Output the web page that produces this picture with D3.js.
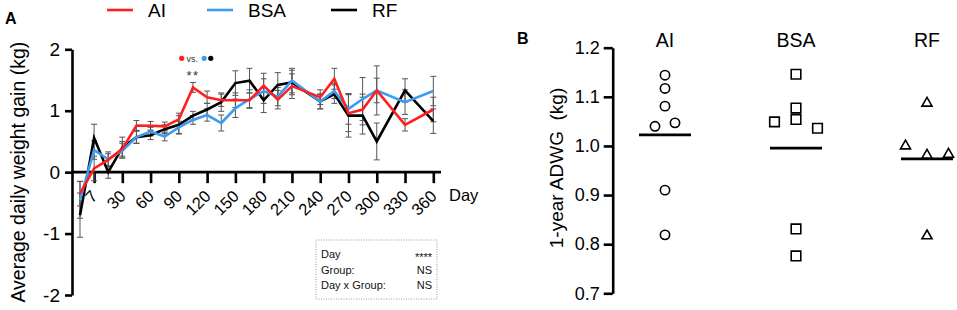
<!DOCTYPE html>
<html>
<head>
<meta charset="utf-8">
<script src="https://cdn.jsdelivr.net/npm/d3@7"></script>
<style>
  html, body { margin: 0; padding: 0; background: #fff; }
  svg { display: block; font-family: "Liberation Sans", Arial, sans-serif; }
</style>
</head>
<body>
<svg id="chart" width="957" height="310"></svg>
<script>
// ---------------- DATA ----------------
const days = [0, 7, 14, 30, 45, 60, 75, 90, 105, 120, 135, 150, 165, 180, 195, 210, 240, 255, 270, 285, 300, 330, 360];
const dayTicks = [7, 30, 60, 90, 120, 150, 180, 210, 240, 270, 300, 330, 360];
const yTicksA = [-2, -1, 0, 1, 2];

const aiMean  = [-0.35, 0.06, 0.20, 0.38, 0.76, 0.755, 0.745, 0.86, 1.38, 1.22, 1.17, 1.17, 1.17, 1.41, 1.18, 1.40, 1.22, 1.52, 0.96, 1.02, 1.33, 0.77, 1.02];
const bsaMean = [-0.45, 0.36, 0.21, 0.35, 0.57, 0.66, 0.58, 0.73, 0.85, 0.93, 0.80, 1.04, 1.19, 1.32, 1.23, 1.49, 1.15, 1.32, 1.03, 1.19, 1.33, 1.14, 1.32];
const rfMean  = [-0.70, 0.56, 0.00, 0.40, 0.57, 0.60, 0.70, 0.77, 0.92, 1.02, 1.14, 1.45, 1.49, 1.17, 1.42, 1.46, 1.15, 1.27, 0.92, 0.92, 0.50, 1.33, 0.83];

const aiSem  = [0.20, 0.20, 0.10, 0.12, 0.08, 0.07, 0.07, 0.10, 0.08, 0.10, 0.10, 0.12, 0.12, 0.20, 0.15, 0.20, 0.12, 0.17, 0.30, 0.25, 0.40, 0.10, 0.20];
const bsaSem = [0.30, 0.15, 0.12, 0.12, 0.10, 0.07, 0.07, 0.10, 0.07, 0.10, 0.13, 0.15, 0.15, 0.20, 0.15, 0.20, 0.12, 0.12, 0.25, 0.35, 0.20, 0.20, 0.24];
const rfSem  = [0.36, 0.22, 0.10, 0.17, 0.10, 0.07, 0.07, 0.15, 0.07, 0.10, 0.15, 0.20, 0.20, 0.20, 0.20, 0.20, 0.12, 0.15, 0.35, 0.30, 0.30, 0.19, 0.20];

const groups = ["AI", "BSA", "RF"];
const aiADWG  = [1.144, 1.117, 1.081, 1.040, 1.047, 0.910, 0.819];
const bsaADWG = [1.146, 1.077, 1.054, 1.049, 1.036, 0.831, 0.776];
const rfADWG  = [1.087, 0.981, 1.000, 0.983, 0.817];
const yTicksB = [0.7, 0.8, 0.9, 1.0, 1.1, 1.2];

const statsRows = [["Day", "****"], ["Group:", "NS"], ["Day x Group:", "NS"]];

// ---------------- STYLE ----------------
const colors = { AI: "#ff1f1f", BSA: "#3d9cf2", RF: "#000000" };
const FONT = "Liberation Sans, Arial, sans-serif";
const svg = d3.select("#chart");

// ================= PANEL A =================
const A = { left: 72, right: 441, top: 49.3, bottom: 295 };
const xA = d3.scaleLinear()
  .domain([0, 7, 14, 30, 360])
  .range([80, 94.1, 108.2, 122.3, 433.3]);
const yA = d3.scaleLinear().domain([-2, 2]).range([A.bottom, A.top]);

const gA = svg.append("g");

// panel letter
svg.append("text").attr("x", 5).attr("y", 24).attr("font-size", 16).attr("font-weight", "bold").text("A");

// legend
const legendItems = [
  { name: "AI", x: 107 },
  { name: "BSA", x: 207 },
  { name: "RF", x: 331 }
];
legendItems.forEach(d => {
  svg.append("line").attr("x1", d.x).attr("x2", d.x + 26).attr("y1", 10).attr("y2", 10)
    .attr("stroke", colors[d.name]).attr("stroke-width", 2.6);
  svg.append("text").attr("x", d.x + 41).attr("y", 17).attr("font-size", 19).text(d.name);
});

// y axis
const hyphenInt = d => (d < 0 ? "-" : "") + Math.abs(d);
const yAxisA = d3.axisLeft(yA).tickValues(yTicksA).tickSize(7).tickPadding(5).tickSizeOuter(0).tickFormat(hyphenInt);
const gyA = gA.append("g").attr("transform", `translate(${A.left},0)`).call(yAxisA);
gyA.select(".domain").attr("stroke-width", 2.6);
gyA.selectAll(".tick line").attr("stroke-width", 2.6);
gyA.selectAll(".tick text").attr("font-size", 19).attr("font-family", FONT).attr("fill", "#000");

// x axis
gA.append("line").attr("x1", A.left).attr("x2", A.right).attr("y1", yA(0)).attr("y2", yA(0))
  .attr("stroke", "#000").attr("stroke-width", 2.6);
const xAxisA = d3.axisBottom(xA).tickValues(dayTicks).tickSize(11).tickSizeOuter(0).tickFormat(d3.format("d"));
const gxA = gA.append("g").attr("transform", `translate(0,${yA(0)})`).call(xAxisA);
gxA.select(".domain").remove();
gxA.selectAll(".tick line").attr("stroke-width", 2.6);
gxA.selectAll(".tick text")
  .attr("font-size", 16.5).attr("font-family", FONT).attr("fill", "#000")
  .attr("text-anchor", "end")
  .attr("transform", "translate(4,25) rotate(-45)")
  .attr("y", 0).attr("dy", "0");

gA.append("text").attr("x", 449).attr("y", 201).attr("font-size", 16.5).text("Day");

// y label
gA.append("text")
  .attr("transform", `translate(25,${(A.top + A.bottom) / 2}) rotate(-90)`)
  .attr("text-anchor", "middle").attr("font-size", 19.5)
  .text("Average daily weight gain (kg)");

// series
const series = [
  { name: "AI", mean: aiMean, sem: aiSem },
  { name: "BSA", mean: bsaMean, sem: bsaSem },
  { name: "RF", mean: rfMean, sem: rfSem }
];

// error bars
const gErr = gA.append("g").attr("stroke", "#555").attr("stroke-width", 1).attr("fill", "none");
series.forEach(s => {
  days.forEach((d, i) => {
    const x = xA(d), y1 = yA(s.mean[i] + s.sem[i]), y2 = yA(s.mean[i] - s.sem[i]);
    gErr.append("line").attr("x1", x).attr("x2", x).attr("y1", y1).attr("y2", y2);
    gErr.append("line").attr("x1", x - 3).attr("x2", x + 3).attr("y1", y1).attr("y2", y1);
    gErr.append("line").attr("x1", x - 3).attr("x2", x + 3).attr("y1", y2).attr("y2", y2);
  });
});

// lines
const lineGen = d3.line().x((d, i) => xA(days[i])).y(d => yA(d));
["RF", "BSA", "AI"].forEach(name => {
  const s = series.find(t => t.name === name);
  gA.append("path").attr("d", lineGen(s.mean)).attr("fill", "none")
    .attr("stroke", colors[name]).attr("stroke-width", 2.6).attr("stroke-linejoin", "miter");
});

// annotation at day 105
const annX = xA(105);
gA.append("circle").attr("cx", annX - 11.3).attr("cy", 58.3).attr("r", 2.6).attr("fill", colors.AI);
gA.append("text").attr("x", annX - 6.5).attr("y", 62).attr("font-size", 9).attr("fill", "#333").text("vs.");
gA.append("circle").attr("cx", annX + 11.2).attr("cy", 58.3).attr("r", 2.6).attr("fill", colors.BSA);
gA.append("circle").attr("cx", annX + 17.8).attr("cy", 58.3).attr("r", 2.6).attr("fill", colors.RF);
gA.append("text").attr("x", annX).attr("y", 80).attr("text-anchor", "middle").attr("font-size", 13)
  .attr("letter-spacing", 1.5).attr("fill", "#333").text("**");

// stats box
const box = { x: 316, y: 240, w: 121, h: 59 };
gA.append("rect").attr("x", box.x).attr("y", box.y).attr("width", box.w).attr("height", box.h)
  .attr("fill", "none").attr("stroke", "#999").attr("stroke-width", 1).attr("stroke-dasharray", "1,1.5");
statsRows.forEach((r, i) => {
  gA.append("text").attr("x", box.x + 5).attr("y", box.y + 18 + i * 15.7).attr("font-size", 11).attr("fill", "#111").text(r[0]);
  gA.append("text").attr("x", box.x + 116).attr("y", box.y + 18 + i * 15.7 + (r[1] === "****" ? 3 : 0))
    .attr("text-anchor", "end").attr("font-size", 11).attr("fill", "#111").text(r[1]);
});

// ================= PANEL B =================
const B = { axisX: 612.7, top: 47.7, bottom: 293.3 };
const yB = d3.scaleLinear().domain([0.7, 1.2]).range([B.bottom, B.top]);
const xB = d3.scalePoint().domain(groups).range([665, 927]);

svg.append("text").attr("x", 517).attr("y", 44).attr("font-size", 16).attr("font-weight", "bold").text("B");

const yAxisB = d3.axisLeft(yB).tickValues(yTicksB).tickSize(9).tickPadding(4).tickSizeOuter(0).tickFormat(d3.format(".1f"));
const gyB = svg.append("g").attr("transform", `translate(${B.axisX},0)`).call(yAxisB);
gyB.select(".domain").attr("stroke-width", 2.6);
gyB.selectAll(".tick line").attr("stroke-width", 2.6);
gyB.selectAll(".tick text").attr("font-size", 18).attr("font-family", FONT).attr("fill", "#000");

svg.append("text")
  .attr("transform", `translate(563,168) rotate(-90)`)
  .attr("text-anchor", "middle").attr("font-size", 19)
  .attr("xml:space", "preserve")
  .text("1-year ADWG  (kg)");

groups.forEach(g => {
  svg.append("text").attr("x", xB(g)).attr("y", 47).attr("text-anchor", "middle").attr("font-size", 19.5).text(g);
});

// beeswarm-like row layout: points within a row are spread symmetrically in entry order
function layoutRows(values, rowPx, stepPx) {
  const idx = values.map((v, i) => i).sort((a, b) => values[b] - values[a]);
  const rows = [];
  idx.forEach(i => {
    const py = yB(values[i]);
    const last = rows[rows.length - 1];
    if (last && Math.abs(py - yB(values[last[0]])) <= rowPx) last.push(i);
    else rows.push([i]);
  });
  const off = new Array(values.length).fill(0);
  rows.forEach(r => {
    const members = r.slice().sort((a, b) => a - b);
    const n = members.length;
    if (n % 2 === 1) {
      members.forEach((m, k) => {
        const slot = k === 0 ? 0 : (k % 2 === 1 ? -Math.ceil(k / 2) : Math.ceil(k / 2));
        off[m] = slot * stepPx;
      });
    } else {
      members.forEach((m, k) => {
        const half = Math.floor(k / 2) + 0.5;
        off[m] = (k % 2 === 0 ? -half : half) * stepPx;
      });
    }
  });
  return off;
}

const groupData = [
  { name: "AI", values: aiADWG, symbol: d3.symbolCircle, size: 68, step: 20 },
  { name: "BSA", values: bsaADWG, symbol: d3.symbolSquare, size: 92, step: 21.5 },
  { name: "RF", values: rfADWG, symbol: d3.symbolTriangle, size: 44, step: 21.5 }
];
groupData.forEach(g => {
  const offs = layoutRows(g.values, 10, g.step);
  const sym = d3.symbol().type(g.symbol).size(g.size);
  g.values.forEach((v, i) => {
    svg.append("path").attr("d", sym())
      .attr("transform", `translate(${xB(g.name) + offs[i]},${yB(v)})`)
      .attr("fill", "#fff").attr("stroke", "#000").attr("stroke-width", 1.6);
  });
  const m = d3.mean(g.values);
  svg.append("line").attr("x1", xB(g.name) - 26).attr("x2", xB(g.name) + 26)
    .attr("y1", yB(m)).attr("y2", yB(m)).attr("stroke", "#000").attr("stroke-width", 2.6);
});
</script>
</body>
</html>
